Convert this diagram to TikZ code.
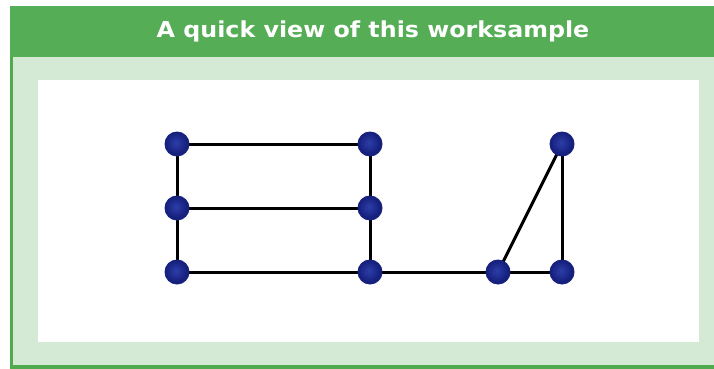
\documentclass[tikz,border=0pt]{standalone}
\usepackage{fontspec}
\setmainfont{DejaVu Sans}
\begin{document}
\begin{tikzpicture}[x=1pt,y=-1pt,
  dot/.style={circle,inner sep=0pt,minimum size=25pt},
  edge/.style={line width=3pt,black}]
\definecolor{hdrgreen}{RGB}{85,174,85}
\definecolor{panelgreen}{RGB}{213,234,213}
\definecolor{borderg}{RGB}{80,170,80}
\definecolor{dotin}{RGB}{45,62,170}
\definecolor{dotout}{RGB}{22,32,125}
\useasboundingbox (0,0) rectangle (714,369);
\fill[white] (0,0) rectangle (714,369);
% panel
\fill[panelgreen] (10,57) rectangle (714,369);
\fill[borderg] (10,57) rectangle (13,369);
\fill[borderg] (10,365) rectangle (714,369);
% header
\fill[hdrgreen] (10,6) rectangle (714,57);
\node[text=white,font=\bfseries\fontsize{22}{26}\selectfont] (title) at (373,31) {\scalebox{1.08}[1]{A quick view of this worksample}};
% white field
\fill[white] (38,80) rectangle (699,342);
% nodes
\node[dot] (a1) at (177,144) {};
\node[dot] (a2) at (177,208) {};
\node[dot] (a3) at (177,272) {};
\node[dot] (b1) at (370,144) {};
\node[dot] (b2) at (370,208) {};
\node[dot] (b3) at (370,272) {};
\node[dot] (c3) at (498,272) {};
\node[dot] (d1) at (562,144) {};
\node[dot] (d3) at (562,272) {};
\draw[edge] (a1.center) -- (b1.center);
\draw[edge] (a2.center) -- (b2.center);
\draw[edge] (a3.center) -- (b3.center) -- (c3.center) -- (d3.center);
\draw[edge] (a1.center) -- (a2.center) -- (a3.center);
\draw[edge] (b1.center) -- (b2.center) -- (b3.center);
\draw[edge] (d1.center) -- (c3.center);
\draw[edge] (d1.center) -- (d3.center);
% dots on top
\foreach \p in {a1,a2,a3,b1,b2,b3,c3,d1,d3}{
  \fill[dotout] (\p.center) circle (12.5);
  \shade[inner color=dotin,outer color=dotout] ([shift={(-1,-1)}]\p.center) circle (10.5);
}
\end{tikzpicture}
\end{document}
